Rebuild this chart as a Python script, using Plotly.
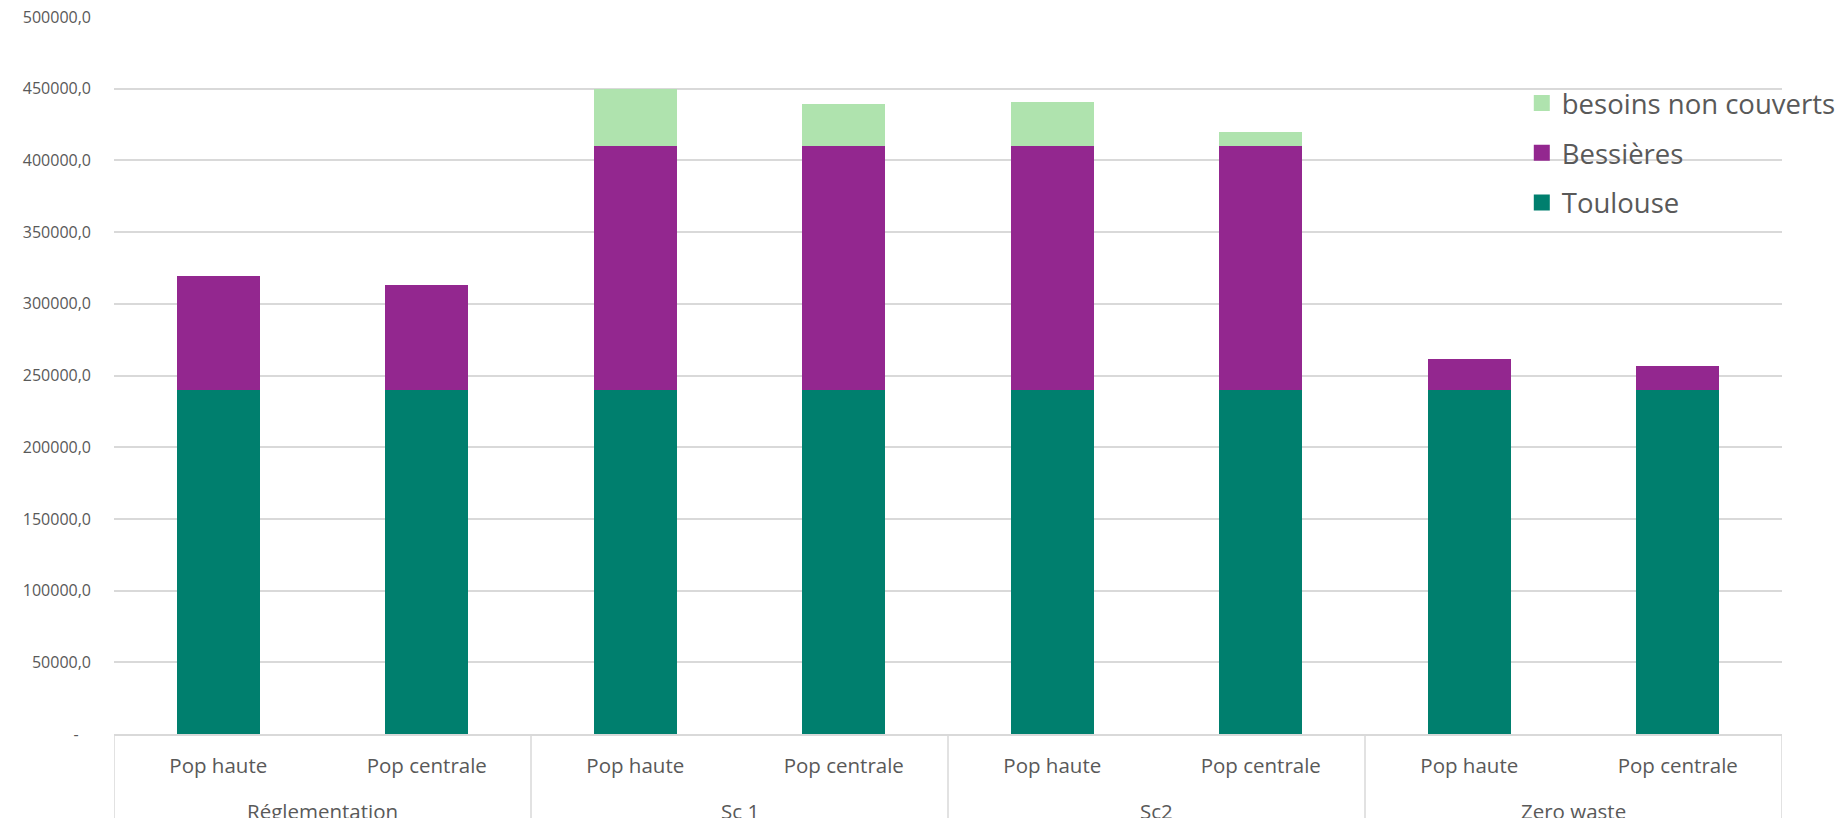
import plotly.graph_objects as go

# ---- data ----
scenarios = ["Réglementation", "Réglementation", "Sc 1", "Sc 1", "Sc2", "Sc2", "Zero waste", "Zero waste"]
populations = ["Pop haute", "Pop centrale"] * 4
toulouse = [240000, 240000, 240000, 240000, 240000, 240000, 240000, 240000]
bessieres = [79500, 72800, 170000, 170000, 170000, 170000, 21400, 16800]
besoins = [0, 0, 40000, 29000, 30600, 10000, 0, 0]

series_names = ["Toulouse", "Bessières", "besoins non couverts"]
series_values = [toulouse, bessieres, besoins]
series_colors = ["#007F6E", "#93278F", "#AFE3AE"]
legend_ranks = [3, 2, 1]

ytick_vals = [0, 50000, 100000, 150000, 200000, 250000, 300000, 350000, 400000, 450000, 500000]
ytick_text = ["-\u00a0\u00a0\u00a0", "50000,0", "100000,0", "150000,0", "200000,0", "250000,0",
              "300000,0", "350000,0", "400000,0", "450000,0", "500000,0"]

positions = list(range(len(populations)))

fig = go.Figure()
for i, (name, vals, col) in enumerate(zip(series_names, series_values, series_colors)):
    fig.add_trace(go.Bar(
        x=positions,
        y=vals,
        name=name,
        legendgroup="g%d" % i,
        showlegend=False,
        width=0.4,
        marker=dict(color=col, line=dict(width=0)),
        customdata=[[s, p] for s, p in zip(scenarios, populations)],
        hovertemplate="%{customdata[0]} - %{customdata[1]}<br>%{y}<extra>" + name + "</extra>",
    ))
# legend entries (square swatches)
for i, (name, col) in enumerate(zip(series_names, series_colors)):
    fig.add_trace(go.Scatter(
        x=[None], y=[None], mode="markers", name=name,
        legendgroup="g%d" % i, legendrank=legend_ranks[i],
        marker=dict(symbol="square", size=16, color=col, line=dict(width=0)),
        hoverinfo="skip",
    ))

grid = "#D9D9D9"
txt = "#595959"

# group labels and dividers derived from the scenario list
groups = []
for idx, s in enumerate(scenarios):
    if not groups or groups[-1][0] != s:
        groups.append([s, idx, idx])
    else:
        groups[-1][2] = idx

annotations = []
shapes = []
for name, start, end in groups:
    annotations.append(dict(
        x=(start + end) / 2, xref="x", y=-0.1075, yref="paper",
        text=name, showarrow=False, xanchor="center", yanchor="middle",
        font=dict(size=20.5, color=txt, family="Open Sans"),
    ))
    shapes.append(dict(type="line", xref="x", yref="paper",
                       x0=start - 0.5, x1=start - 0.5, y0=0, y1=-0.2,
                       line=dict(color=grid, width=1.5)))
shapes.append(dict(type="line", xref="x", yref="paper",
                   x0=groups[-1][2] + 0.5, x1=groups[-1][2] + 0.5, y0=0, y1=-0.2,
                   line=dict(color=grid, width=1.5)))

fig.update_layout(
    barmode="stack",
    width=1844,
    height=818,
    margin=dict(l=114, r=62, t=17, b=84, autoexpand=False),
    paper_bgcolor="white",
    plot_bgcolor="white",
    font=dict(family="Open Sans", color=txt),
    legend=dict(
        x=0.844, xanchor="left",
        y=0.914, yanchor="top",
        traceorder="grouped",
        tracegroupgap=11,
        font=dict(size=27.5, color=txt, family="Open Sans"),
        bgcolor="rgba(0,0,0,0)",
    ),
    showlegend=True,
    annotations=annotations,
    shapes=shapes,
)

fig.update_yaxes(
    range=[0, 500000],
    tickvals=ytick_vals,
    ticktext=ytick_text,
    showgrid=True,
    gridcolor=grid,
    gridwidth=1.5,
    zeroline=False,
    showline=False,
    ticks="",
    ticklabelstandoff=22,
    automargin=False,
    tickfont=dict(size=16, color=txt),
)

fig.update_xaxes(
    range=[-0.5, len(populations) - 0.5],
    tickvals=positions,
    ticktext=populations,
    showline=True,
    linecolor=grid,
    linewidth=1.5,
    ticks="outside",
    ticklen=13,
    tickcolor="rgba(0,0,0,0)",
    tickfont=dict(size=20.5, color=txt),
    showgrid=False,
    zeroline=False,
    automargin=False,
)

fig.write_html("out.html")
